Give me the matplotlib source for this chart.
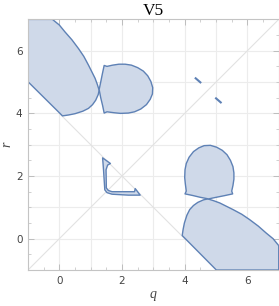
import matplotlib
matplotlib.use('Agg')
import matplotlib.pyplot as plt

# region boundaries (q, r)
left_q = [-1, -0.22, 0.0, 0.18, 0.4, 0.61, 0.78, 0.93, 1.05, 1.14, 1.21, 1.27,
          1.24, 1.16, 1.06, 0.93, 0.75, 0.5, 0.3, 0.1, -1]
left_r = [7, 7, 6.82, 6.6, 6.35, 6.07, 5.82, 5.54, 5.3, 5.12, 4.93, 4.74,
          4.6, 4.42, 4.28, 4.16, 4.07, 3.99, 3.95, 3.92, 5.01]

blob_q = [1.43, 1.52, 1.7, 1.9, 2.1, 2.3, 2.5, 2.68, 2.82, 2.92, 2.98, 2.97, 2.9, 2.78,
          2.6, 2.4, 2.2, 1.95, 1.75, 1.52, 1.43, 1.38, 1.32, 1.27, 1.32, 1.37]
blob_r = [5.53, 5.5, 5.54, 5.57, 5.57, 5.54, 5.46, 5.35, 5.2, 5.02, 4.82, 4.62, 4.45, 4.28,
          4.14, 4.05, 4.01, 4.0, 4.02, 4.05, 4.01, 4.25, 4.5, 4.76, 5.0, 5.25]

# thin corner shape
hook_q = [1.38, 1.63, 1.54, 1.49, 1.5, 1.56, 1.68, 2.4, 2.42, 2.58, 2.2, 1.68, 1.52, 1.45, 1.41]
hook_r = [2.58, 2.4, 2.35, 2.2, 1.62, 1.54, 1.5, 1.5, 1.6, 1.39, 1.39, 1.42, 1.47, 1.56, 2.19]

dash1_q = [4.35, 4.5]
dash1_r = [5.12, 4.99]
dash2_q = [5.0, 5.15]
dash2_r = [4.48, 4.35]

edge = '#5e81b5'
face = '#cfd9e9'

fig = plt.figure(figsize=(2.79, 3.06), dpi=100)
ax = fig.add_axes([0.1004, 0.1176, 0.8986, 0.819])

for v in range(0, 7):
    ax.axvline(v, color='#ececec', lw=0.8, zorder=0)
    ax.axhline(v, color='#ececec', lw=0.8, zorder=0)
ax.plot([-1, 7], [-1, 7], color='#e2e2e2', lw=0.8, zorder=0)
ax.plot([0, 4], [4, 0], color='#e2e2e2', lw=0.8, zorder=0)

# the picture is symmetric about q = r, so the mirror regions swap axes
for qs, rs in [(left_q, left_r), (left_r, left_q), (blob_q, blob_r), (blob_r, blob_q), (hook_q, hook_r)]:
    ax.fill(qs, rs, facecolor=face, edgecolor=edge, lw=1.0, joinstyle='round', zorder=2)

ax.plot(dash1_q, dash1_r, color=edge, lw=1.5, zorder=3)
ax.plot(dash2_q, dash2_r, color=edge, lw=1.5, zorder=3)

ax.set_xlim(-1, 7)
ax.set_ylim(-1, 7)
ax.set_xticks([0, 2, 4, 6])
ax.set_yticks([0, 2, 4, 6])
ax.set_xticks([x * 0.5 for x in range(-2, 15)], minor=True)
ax.set_yticks([x * 0.5 for x in range(-2, 15)], minor=True)
ax.tick_params(which='both', direction='in', top=True, right=True, color='#bdbdbd', labelsize=7.5, labelcolor='#444444', pad=4)
ax.tick_params(which='major', length=4, width=0.7)
ax.tick_params(which='minor', length=2.5, width=0.5)
for s in ax.spines.values():
    s.set_color('#c4c4c4')
    s.set_linewidth(0.8)

ax.set_title('V5', fontname='Liberation Serif', fontsize=12.5, pad=3)
ax.set_xlabel('q', fontname='Liberation Serif', style='italic', fontsize=10, color='#444444', labelpad=2)
ax.set_ylabel('r', fontname='Liberation Serif', style='italic', fontsize=10, color='#444444', labelpad=2)

fig.savefig('out.png', dpi=100)
